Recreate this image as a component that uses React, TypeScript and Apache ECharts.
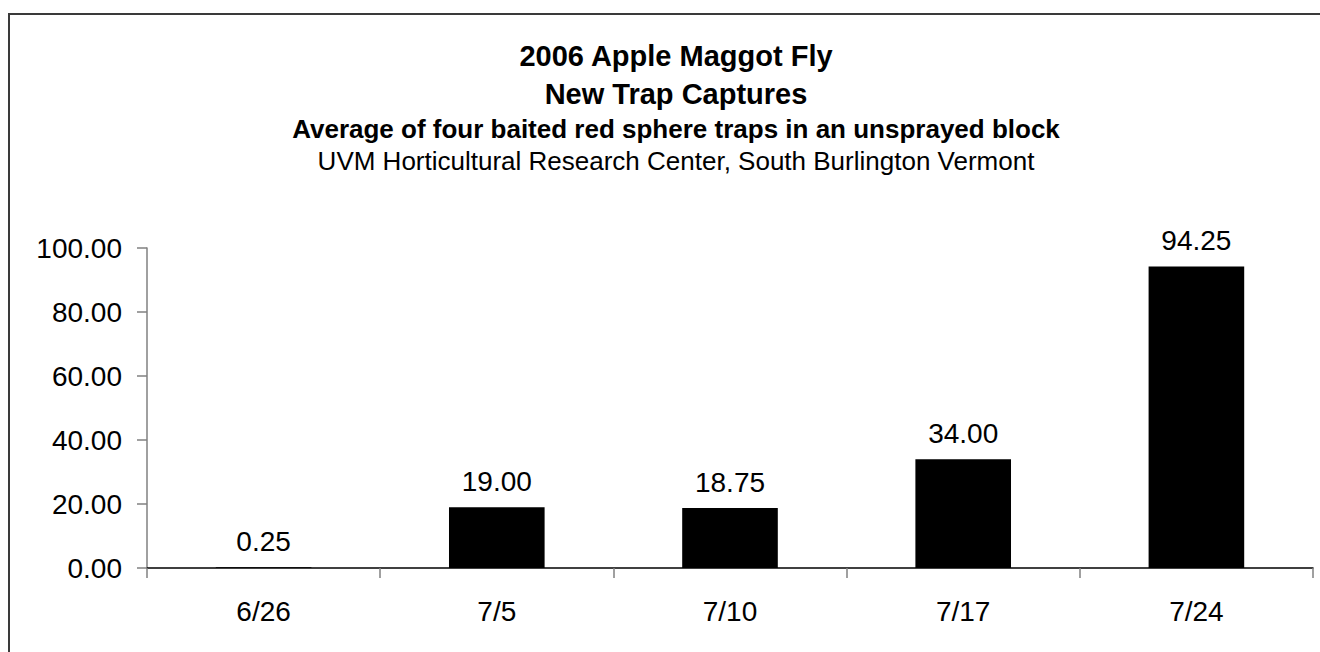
import React, { useEffect, useRef } from "react";
import * as echarts from "echarts";

const categories = ["6/26", "7/5", "7/10", "7/17", "7/24"];
const values = [0.25, 19.0, 18.75, 34.0, 94.25];
const titleLines = [
  "2006 Apple Maggot Fly",
  "New Trap Captures",
  "Average of four baited red sphere traps in an unsprayed block",
  "UVM Horticultural Research Center, South Burlington Vermont",
];

const FONT = "'Liberation Sans', Arial, Helvetica, sans-serif";

export default function App() {
  const ref = useRef<HTMLDivElement>(null);
  useEffect(() => {
    if (!ref.current) return;
    document.body.style.margin = "0";
    document.body.style.overflow = "hidden";
    const chart = echarts.init(ref.current, undefined, { renderer: "svg" });
    const cx = 671;
    chart.setOption({
      animation: false,
      title: [
        { text: titleLines[0], left: cx, top: 36, textAlign: "center", textStyle: { fontFamily: FONT, fontSize: 29, fontWeight: "bold", color: "#000" } },
        { text: titleLines[1], left: cx, top: 74, textAlign: "center", textStyle: { fontFamily: FONT, fontSize: 29, fontWeight: "bold", color: "#000" } },
        { text: titleLines[2], left: cx, top: 111, textAlign: "center", textStyle: { fontFamily: FONT, fontSize: 26, fontWeight: "bold", color: "#000" } },
        { text: titleLines[3], left: cx, top: 143, textAlign: "center", textStyle: { fontFamily: FONT, fontSize: 26, fontWeight: "normal", color: "#000" } },
      ],
      grid: { left: 147, right: 7, top: 248, bottom: 652 - 568, containLabel: false },
      xAxis: {
        type: "category",
        data: categories,
        axisLine: { show: true, lineStyle: { color: "#000", width: 1.5 } },
        axisTick: { show: true, inside: false, length: 10, alignWithLabel: false, lineStyle: { color: "#808080", width: 1.5 } },
        axisLabel: { fontFamily: FONT, fontSize: 28, color: "#000", margin: 29 },
        splitLine: { show: false },
      },
      yAxis: {
        type: "value",
        min: 0,
        max: 100,
        interval: 20,
        axisLine: { show: true, lineStyle: { color: "#808080", width: 1.5 } },
        axisTick: { show: true, inside: false, length: 10, lineStyle: { color: "#808080", width: 1.5 } },
        axisLabel: { fontFamily: FONT, fontSize: 28, color: "#000", margin: 25, formatter: (v: number) => v.toFixed(2) },
        splitLine: { show: false },
      },
      series: [
        {
          type: "bar",
          data: values,
          barWidth: "41%",
          itemStyle: { color: "#000" },
          label: {
            show: true,
            position: "top",
            distance: 12,
            fontFamily: FONT,
            fontSize: 28,
            color: "#000",
            formatter: (p: any) => Number(p.value).toFixed(2),
          },
        },
      ],
    });
    return () => chart.dispose();
  }, []);
  return (
    <div style={{ position: "fixed", left: 0, top: 0, width: 1320, height: 652, overflow: "hidden", background: "#fff" }}>
      <div style={{ position: "absolute", left: 7.5, top: 12.5, width: 1312.5, height: 2, background: "#3a3a3a" }} />
      <div style={{ position: "absolute", left: 7.5, top: 12.5, width: 2, height: 640, background: "#3a3a3a" }} />
      <div ref={ref} style={{ position: "absolute", left: 0, top: 0, width: 1320, height: 652 }} />
    </div>
  );
}
